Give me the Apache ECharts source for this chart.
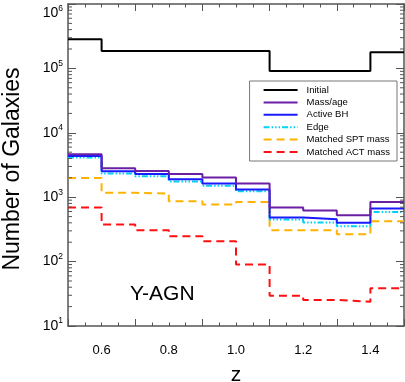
<!DOCTYPE html>
<html><head><meta charset="utf-8">
<script src="https://cdn.jsdelivr.net/npm/echarts@6/dist/echarts.min.js"></script>
<style>html,body{margin:0;padding:0;background:#fff}#c{width:405px;height:382px}</style>
</head><body><div id="c"></div>
<script>
// bin edges in redshift z (10 bins of width 0.1)
var binEdges = [0.5, 0.6, 0.7, 0.8, 0.9, 1.0, 1.1, 1.2, 1.3, 1.4, 1.5];
var xTicks = [0.6, 0.8, 1.0, 1.2, 1.4];
var initial   = [283000, 186000, 186000, 186000, 186000, 186000, 91000, 91000, 91000, 178000];
var massAge   = [4660, 2820, 2560, 2300, 2020, 1630, 690, 621, 525, 845];
var activeBH  = [4370, 2530, 2300, 1900, 1630, 1320, 483, 455, 400, 667];
var edgeVals  = [4130, 2340, 2120, 1750, 1500, 1240, 450, 405, 355, 590];
var sptMass   = [1990, 1170, 1140, 867, 770, 845, 308, 308, 266, 424];
var actMass   = [690, 377, 308, 248, 207, 90, 29.6, 25.4, 23.9, 38.6];
var seriesNames = ['Initial', 'Mass/age', 'Active BH', 'Edge', 'Matched SPT mass', 'Matched ACT mass'];
var yDecades = [10, 100, 1000, 10000, 100000];
var yMinorMult = [2, 3, 4, 5, 6, 7, 8, 9];

function stepData(vals) {
  return binEdges.map(function (e, i) { return [e, vals[Math.min(i, vals.length - 1)]]; });
}
var minorTickVals = [];
yDecades.forEach(function (d) { yMinorMult.forEach(function (m) { minorTickVals.push([m * d]); }); });

var FONT = 'Liberation Sans, Arial, sans-serif';
var AX = '#555';
var axisLineStyle = { color: AX, width: 1.5 };

var chart = echarts.init(document.getElementById('c'));

var styles = [
  { color: '#000000', type: 'solid' },
  { color: '#6a1fa5', type: 'solid' },
  { color: '#1a1aff', type: 'solid' },
  { color: '#00d2f5', type: [6, 2, 1.5, 2, 1.5, 2, 1.5, 2] },
  { color: '#ffb300', type: [8, 5] },
  { color: '#ff1010', type: [8, 5] }
];
var datas = [initial, massAge, activeBH, edgeVals, sptMass, actMass];

var series = datas.map(function (d, i) {
  return {
    name: seriesNames[i], type: 'line', step: 'end', symbol: 'none', showSymbol: false,
    data: stepData(d), xAxisIndex: 0, yAxisIndex: 0,
    lineStyle: { color: styles[i].color, type: styles[i].type, width: 2 },
    itemStyle: { color: styles[i].color },
    z: 10 - i, animation: false
  };
});

// minor log ticks on left and right axes, positioned by the axis scale
series.push({
  type: 'custom', xAxisIndex: 0, yAxisIndex: 0, data: minorTickVals, clip: false,
  silent: true, z: 20, animation: false,
  renderItem: function (params, api) {
    var v = api.value(0);
    var pl = api.coord([0.5, v]);
    var pr = api.coord([1.5, v]);
    return { type: 'group', children: [
      { type: 'line', shape: { x1: pl[0], y1: pl[1], x2: pl[0] + 4, y2: pl[1] }, style: { stroke: AX, lineWidth: 1 } },
      { type: 'line', shape: { x1: pr[0], y1: pr[1], x2: pr[0] - 4, y2: pr[1] }, style: { stroke: AX, lineWidth: 1 } }
    ] };
  },
  encode: { y: 0 }
});

var xBase = {
  type: 'value', min: 0.5, max: 1.5, interval: 0.2,
  axisLine: { show: true, onZero: false, lineStyle: axisLineStyle },
  axisTick: { show: true, inside: true, length: 7, lineStyle: { color: AX } },
  minorTick: { show: true, splitNumber: 4, length: 3.5, lineStyle: { color: AX } },
  splitLine: { show: false }
};
var yBase = {
  type: 'log', min: 10, max: 1000000, logBase: 10,
  axisLine: { show: true, onZero: false, lineStyle: axisLineStyle },
  axisTick: { show: true, inside: true, length: 8, lineStyle: { color: AX } },
  minorTick: { show: false },
  splitLine: { show: false }
};

var option = {
  backgroundColor: '#fff',
  animation: false,
  grid: { left: 68, right: 1, top: 4, bottom: 56, containLabel: false, outerBoundsMode: 'none' },
  xAxis: [
    Object.assign({}, xBase, {
      position: 'bottom',
      axisLabel: { show: true, fontSize: 13, color: '#000', fontFamily: FONT, margin: 18,
        formatter: function (v) { return v.toFixed(1); },
        customValues: xTicks },
      name: 'z', nameLocation: 'middle', nameGap: 39,
      nameTextStyle: { fontSize: 21, color: '#000', fontFamily: FONT }
    }),
    Object.assign({}, xBase, { position: 'top', axisLabel: { show: false } })
  ],
  yAxis: [
    Object.assign({}, yBase, {
      position: 'left',
      axisLabel: { show: true, margin: 5, color: '#000', fontFamily: FONT,
        verticalAlignMaxLabel: 'top',
        formatter: function (v) {
          var e = Math.round(Math.log10(v));
          return '{b|10}{s|' + e + '}';
        },
        rich: {
          b: { fontSize: 14, fontFamily: FONT, color: '#000' },
          s: { fontSize: 8.5, fontFamily: FONT, color: '#000', padding: [0, 0, 10, 0] }
        }
      },
      name: 'Number of Galaxies', nameLocation: 'middle', nameGap: 44,
      nameTextStyle: { fontSize: 23, color: '#000', fontFamily: FONT, padding: [0, 8, 0, 0] }
    }),
    Object.assign({}, yBase, { position: 'right', axisLabel: { show: false } })
  ],
  legend: {
    data: seriesNames, orient: 'vertical', right: 8, top: 81,
    backgroundColor: '#fff', borderColor: '#777', borderWidth: 1, borderRadius: 0,
    padding: [4, 7, 4, 13], itemGap: 2.4, itemWidth: 34, itemHeight: 11,
    itemStyle: { opacity: 0 },
    textStyle: { fontSize: 9.5, fontFamily: FONT, color: '#000', padding: [0, 0, 0, 4] }
  },
  graphic: [
    { type: 'text', left: 130, top: 284,
      style: { text: 'Y-AGN', fontSize: 21, fontFamily: FONT, fill: '#000' } }
  ],
  series: series
};
chart.setOption(option);
</script></body></html>
